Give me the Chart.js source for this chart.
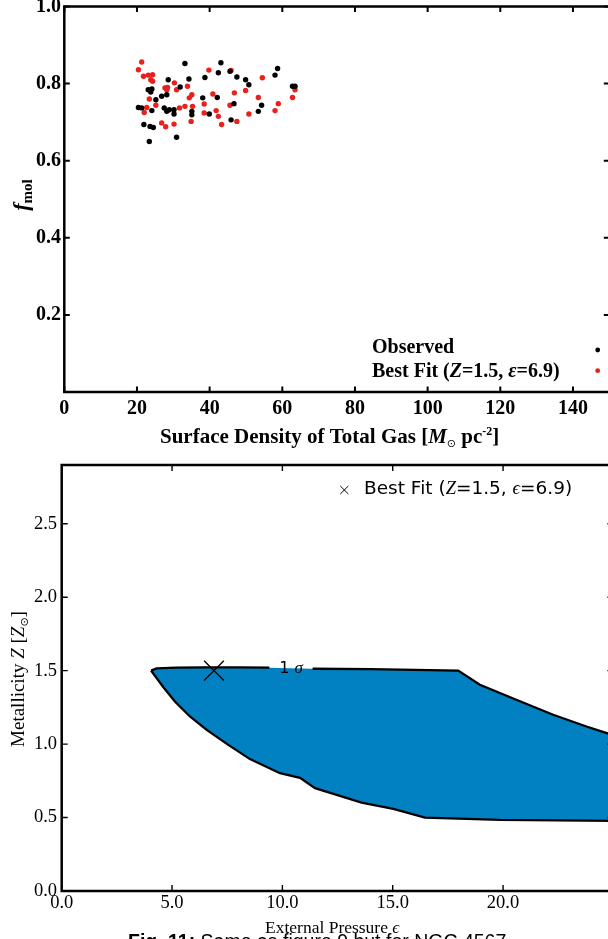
<!DOCTYPE html>
<html>
<head>
<meta charset="utf-8">
<script src="https://cdn.jsdelivr.net/npm/chart.js@4.4.1/dist/chart.umd.min.js"></script>
<style>
  html, body { margin: 0; padding: 0; background: #fff; width: 608px; height: 939px; overflow: hidden; }
  canvas { position: absolute; left: 0; }
  #fmolChart { top: 0; }
  #contourChart { top: 455px; }
  #caption { position: absolute; left: 128px; top: 932px; font: 19.5px/1 "Liberation Sans", Arial, sans-serif; white-space: nowrap; color: #000; }
</style>
</head>
<body>
<canvas id="fmolChart" width="620" height="455"></canvas>
<canvas id="contourChart" width="620" height="484"></canvas>
<div id="caption"><b>Fig. 11:</b> Same as figure 9 but for NGC 4567</div>
<script>
// ---------- top panel: molecular fraction vs. total gas surface density ----------
const observedSigma = [33.2, 34.3, 38.7, 28.6, 31.9, 23.1, 24.1, 23.8, 26.8, 28.2, 25.2, 20.4, 21.3, 24.1, 27.5,
  28.2, 28.9, 30.2, 30.2, 35.1, 35.1, 21.9, 23.6, 24.5, 30.9, 23.4, 38.1, 39.9, 42.1, 43.1,
  42.4, 45.6, 47.5, 49.9, 50.8, 58.7, 58.0, 62.8, 63.5, 46.7, 54.3, 53.4, 45.9];
const observedFmol = [0.852, 0.812, 0.816, 0.810, 0.791, 0.784, 0.786, 0.778, 0.767, 0.771, 0.758, 0.738, 0.737, 0.730, 0.737,
  0.728, 0.732, 0.721, 0.732, 0.728, 0.719, 0.694, 0.689, 0.686, 0.661, 0.650, 0.763, 0.721, 0.764, 0.854,
  0.828, 0.832, 0.817, 0.810, 0.797, 0.839, 0.822, 0.793, 0.793, 0.748, 0.744, 0.728, 0.706];

const bestFitSigma = [21.3, 20.4, 21.8, 23.1, 24.3, 23.8, 24.3, 27.7, 28.4, 28.2, 30.3, 30.9, 33.9, 35.1, 34.4,
  23.4, 25.2, 22.7, 22.0, 31.7, 33.2, 35.3, 34.9, 26.8, 27.9, 30.2, 39.8, 40.9, 38.5, 38.5,
  41.8, 45.9, 54.5, 46.8, 49.9, 53.4, 63.5, 62.8, 45.6, 58.9, 58.0, 50.8, 42.4, 43.3, 47.5];
const bestFitFmol = [0.856, 0.836, 0.819, 0.822, 0.823, 0.810, 0.806, 0.789, 0.790, 0.784, 0.802, 0.784, 0.793, 0.771, 0.763,
  0.760, 0.744, 0.738, 0.725, 0.737, 0.741, 0.741, 0.702, 0.698, 0.688, 0.695, 0.835, 0.773, 0.747, 0.724,
  0.730, 0.834, 0.815, 0.776, 0.782, 0.764, 0.784, 0.764, 0.744, 0.748, 0.730, 0.721, 0.715, 0.694, 0.702];

const sigmaTicks = [0, 20, 40, 60, 80, 100, 120, 140];
const sigmaTickLabels = ['0', '20', '40', '60', '80', '100', '120', '140'];
const fmolTicks = [0.2, 0.4, 0.6, 0.8, 1.0];
const fmolTickLabels = ['0.2', '0.4', '0.6', '0.8', '1.0'];

// ---------- bottom panel: 1-sigma region in (pressure, metallicity) ----------
const upperPressure = [4.05, 4.3, 5.2, 6.5, 8.0, 9.41, 11.37, 14.0, 16.0, 17.97, 18.95, 20.6, 22.27, 23.78, 24.7, 25.0];
const upperMetal    = [1.50, 1.515, 1.52, 1.523, 1.523, 1.52, 1.513, 1.51, 1.505, 1.50, 1.404, 1.302, 1.20, 1.12, 1.075, 1.06];
const lowerPressure = [4.05, 4.60, 5.13, 5.81, 6.57, 7.55, 8.53, 9.89, 10.8, 11.48, 13.59, 15.03, 16.46, 19.86, 25.0];
const lowerMetal    = [1.50, 1.389, 1.29, 1.188, 1.097, 0.995, 0.898, 0.802, 0.77, 0.70, 0.602, 0.559, 0.50, 0.484, 0.478];
const bestFitPressure = 6.9;
const bestFitMetal = 1.5;
const sigmaLabelAt = [10.39, 1.515];   // inline contour label "1 σ"
const sigmaLabelBreak = upperPressure.indexOf(9.41);

const pressureTicks = [0, 5, 10, 15, 20];
const pressureTickLabels = ['0.0', '5.0', '10.0', '15.0', '20.0'];
const metalTicks = [0, 0.5, 1.0, 1.5, 2.0, 2.5];
const metalTickLabels = ['0.0', '0.5', '1.0', '1.5', '2.0', '2.5'];

const SERIF = '"Liberation Serif", "Times New Roman", serif';
const SANS = '"DejaVu Sans", sans-serif';
Chart.defaults.color = '#000';

function drawRuns(ctx, runs, x, y, align) {
  ctx.save();
  ctx.textAlign = 'left';
  ctx.textBaseline = 'alphabetic';
  ctx.fillStyle = '#000';
  let total = 0;
  runs.forEach(r => { ctx.font = r.font; r.w = ctx.measureText(r.text).width; total += r.w; });
  let cx = align === 'center' ? x - total / 2 : (align === 'right' ? x - total : x);
  runs.forEach(r => { ctx.font = r.font; ctx.fillText(r.text, cx, y + (r.dy || 0)); cx += r.w; });
  ctx.restore();
}

// frame on all four sides with inward ticks
const frameTicks = {
  id: 'frameTicks',
  afterDraw(chart, args, opts) {
    const { ctx, chartArea: a } = chart;
    const xs = chart.scales.x, ys = chart.scales.y;
    ctx.save();
    ctx.strokeStyle = '#000';
    ctx.lineWidth = opts.tickWidth;
    ctx.beginPath();
    xs.ticks.forEach(t => {
      const p = xs.getPixelForValue(t.value);
      ctx.moveTo(p, a.bottom); ctx.lineTo(p, a.bottom - opts.tickLen);
      ctx.moveTo(p, a.top); ctx.lineTo(p, a.top + opts.tickLen);
    });
    ys.ticks.forEach(t => {
      const p = ys.getPixelForValue(t.value);
      ctx.moveTo(a.left, p); ctx.lineTo(a.left + opts.tickLen, p);
      ctx.moveTo(a.right, p); ctx.lineTo(a.right - opts.tickLen, p);
    });
    ctx.stroke();
    ctx.lineWidth = opts.frameWidth;
    ctx.strokeRect(a.left, a.top, a.right - a.left, a.bottom - a.top);
    ctx.restore();
  }
};

function fixedScale(size, vertical) {
  return function (s) {
    if (vertical) { s.width = size; s.paddingTop = 0; s.paddingBottom = 0; }
    else { s.height = size; s.paddingLeft = 0; s.paddingRight = 0; }
  };
}

// ---------- top chart ----------
const fmolText = {
  id: 'fmolText',
  afterDraw(chart) {
    const ctx = chart.ctx;
    drawRuns(ctx, [
      { text: 'Surface Density of Total Gas [', font: `bold 21px ${SERIF}` },
      { text: 'M', font: `italic bold 21px ${SERIF}` },
      { text: '\u2299', font: `11px ${SANS}`, dy: 4 },
      { text: ' pc', font: `bold 21px ${SERIF}` },
      { text: '-2', font: `bold 12px ${SERIF}`, dy: -8 },
      { text: ']', font: `bold 21px ${SERIF}` }
    ], 160, 443, 'left');

    ctx.save();
    ctx.translate(28, 195);
    ctx.rotate(-Math.PI / 2);
    drawRuns(ctx, [
      { text: 'f', font: `italic bold 22px ${SERIF}` },
      { text: 'mol', font: `bold 15px ${SERIF}`, dy: 4 }
    ], 0, 0, 'center');
    ctx.restore();

    drawRuns(ctx, [{ text: 'Observed', font: `bold 20px ${SERIF}` }], 372, 353, 'left');
    drawRuns(ctx, [
      { text: 'Best Fit (', font: `bold 20px ${SERIF}` },
      { text: 'Z', font: `italic bold 20px ${SERIF}` },
      { text: '=1.5, ', font: `bold 20px ${SERIF}` },
      { text: '\u03b5', font: `italic bold 20px ${SERIF}` },
      { text: '=6.9)', font: `bold 20px ${SERIF}` }
    ], 372, 376.5, 'left');
    ctx.save();
    ctx.fillStyle = '#000';
    ctx.beginPath(); ctx.arc(597.7, 350, 2.4, 0, Math.PI * 2); ctx.fill();
    ctx.fillStyle = '#e8211c';
    ctx.beginPath(); ctx.arc(597.7, 370.7, 2.4, 0, Math.PI * 2); ctx.fill();
    ctx.restore();
  }
};

new Chart(document.getElementById('fmolChart'), {
  type: 'scatter',
  data: {
    datasets: [
      {
        label: 'Observed',
        data: observedSigma.map((x, i) => ({ x, y: observedFmol[i] })),
        pointRadius: 2.7, pointBackgroundColor: '#000', pointBorderWidth: 0, borderWidth: 0
      },
      {
        label: 'Best Fit',
        data: bestFitSigma.map((x, i) => ({ x, y: bestFitFmol[i] })),
        pointRadius: 2.7, pointBackgroundColor: '#e8211c', pointBorderWidth: 0, borderWidth: 0
      }
    ]
  },
  options: {
    responsive: false,
    animation: false,
    events: [],
    layout: { autoPadding: false, padding: { left: 0, top: 6.5, right: 10.7, bottom: 0 } },
    plugins: {
      legend: { display: false },
      tooltip: { enabled: false },
      frameTicks: { tickLen: 5.5, tickWidth: 2, frameWidth: 2.5 }
    },
    scales: {
      x: {
        type: 'linear', min: 0, max: 150,
        grid: { display: false, drawTicks: false },
        border: { display: false },
        afterBuildTicks: s => { s.ticks = sigmaTicks.map(v => ({ value: v })); },
        afterFit: fixedScale(63, false),
        ticks: {
          padding: 4.5, maxRotation: 0, autoSkip: false, color: '#000',
          font: { family: SERIF, size: 20, weight: 'bold', lineHeight: 1.2 },
          callback: (v, i) => sigmaTickLabels[i]
        }
      },
      y: {
        type: 'linear', min: 0, max: 1.0,
        grid: { display: false, drawTicks: false },
        border: { display: false },
        afterBuildTicks: s => { s.ticks = fmolTicks.map(v => ({ value: v })); },
        afterFit: fixedScale(64.3, true),
        ticks: {
          padding: 3.3, autoSkip: false, color: '#000',
          font: { family: SERIF, size: 20, weight: 'bold', lineHeight: 1.2 },
          callback: (v, i) => fmolTickLabels[i]
        }
      }
    }
  },
  plugins: [frameTicks, fmolText]
});

// ---------- bottom chart ----------
const contourText = {
  id: 'contourText',
  afterDraw(chart) {
    const ctx = chart.ctx;
    const xs = chart.scales.x, ys = chart.scales.y;
    drawRuns(ctx, [
      { text: 'External Pressure ', font: `17.5px ${SERIF}` },
      { text: '\u03f5', font: `italic 17.5px ${SERIF}` }
    ], 265, 477.5, 'left');

    ctx.save();
    ctx.translate(23.5, 224);
    ctx.rotate(-Math.PI / 2);
    drawRuns(ctx, [
      { text: 'Metallicity ', font: `19px ${SERIF}` },
      { text: 'Z', font: `italic 19px ${SERIF}` },
      { text: ' [', font: `19px ${SERIF}` },
      { text: 'Z', font: `italic 19px ${SERIF}` },
      { text: '\u2299', font: `11px ${SANS}`, dy: 4 },
      { text: ']', font: `19px ${SERIF}` }
    ], 0, 0, 'center');
    ctx.restore();

    // legend
    Chart.helpers.drawPoint(ctx, { pointStyle: 'crossRot', radius: 5.7, borderWidth: 1, borderColor: '#000' }, 344.3, 35);
    drawRuns(ctx, [
      { text: 'Best Fit (', font: `18.5px ${SANS}` },
      { text: 'Z', font: `italic 18.5px ${SERIF}` },
      { text: '=1.5, ', font: `18.5px ${SANS}` },
      { text: '\u03f5', font: `italic 18.5px ${SERIF}` },
      { text: '=6.9)', font: `18.5px ${SANS}` }
    ], 364, 39.3, 'left');

    // inline contour label
    drawRuns(ctx, [
      { text: '1 ', font: `16px ${SANS}` },
      { text: '\u03c3', font: `italic 17px ${SERIF}` }
    ], xs.getPixelForValue(sigmaLabelAt[0]), ys.getPixelForValue(sigmaLabelAt[1]) + 5, 'center');
  }
};

const upperEdge = upperPressure.map((x, i) => ({ x, y: upperMetal[i] }));
const lowerEdge = lowerPressure.map((x, i) => ({ x, y: lowerMetal[i] }));
const upperOutline = [];
upperEdge.forEach((p, i) => {
  upperOutline.push(p);
  if (i === sigmaLabelBreak) upperOutline.push({ x: sigmaLabelAt[0], y: null });
});

new Chart(document.getElementById('contourChart'), {
  type: 'scatter',
  data: {
    datasets: [
      {
        label: 'Best Fit',
        data: [{ x: bestFitPressure, y: bestFitMetal }],
        pointStyle: 'crossRot', pointRadius: 14, pointBorderWidth: 1.3,
        pointBorderColor: '#000', borderColor: '#000', showLine: false
      },
      {
        label: '1 sigma outline',
        data: upperOutline,
        showLine: true, spanGaps: false, fill: false,
        borderColor: '#000', borderWidth: 2.3, pointRadius: 0, tension: 0
      },
      {
        label: '1 sigma upper',
        data: upperEdge,
        showLine: true, fill: false,
        borderColor: 'rgba(0,0,0,0)', borderWidth: 0, pointRadius: 0, tension: 0
      },
      {
        label: '1 sigma lower',
        data: lowerEdge,
        showLine: true, fill: '-1', backgroundColor: '#0181c1',
        borderColor: '#000', borderWidth: 2.3, pointRadius: 0, tension: 0
      }
    ]
  },
  options: {
    responsive: false,
    animation: false,
    events: [],
    layout: { autoPadding: false, padding: { left: 0, top: 10, right: 6.6, bottom: 0 } },
    plugins: {
      legend: { display: false },
      tooltip: { enabled: false },
      filler: { propagate: false },
      frameTicks: { tickLen: 6, tickWidth: 1.4, frameWidth: 2.5 }
    },
    scales: {
      x: {
        type: 'linear', min: 0, max: 25,
        grid: { display: false, drawTicks: false },
        border: { display: false },
        afterBuildTicks: s => { s.ticks = pressureTicks.map(v => ({ value: v })); },
        afterFit: fixedScale(48, false),
        ticks: {
          padding: 1, maxRotation: 0, autoSkip: false, color: '#000',
          font: { family: SERIF, size: 18.5, lineHeight: 1.2 },
          callback: (v, i) => pressureTickLabels[i]
        }
      },
      y: {
        type: 'linear', min: 0, max: 2.9,
        grid: { display: false, drawTicks: false },
        border: { display: false },
        afterBuildTicks: s => { s.ticks = metalTicks.map(v => ({ value: v })); },
        afterFit: fixedScale(61.7, true),
        ticks: {
          padding: 4.7, autoSkip: false, color: '#000',
          font: { family: SERIF, size: 18.5, lineHeight: 1.2 },
          callback: (v, i) => metalTickLabels[i]
        }
      }
    }
  },
  plugins: [frameTicks, contourText]
});
</script>
</body>
</html>
